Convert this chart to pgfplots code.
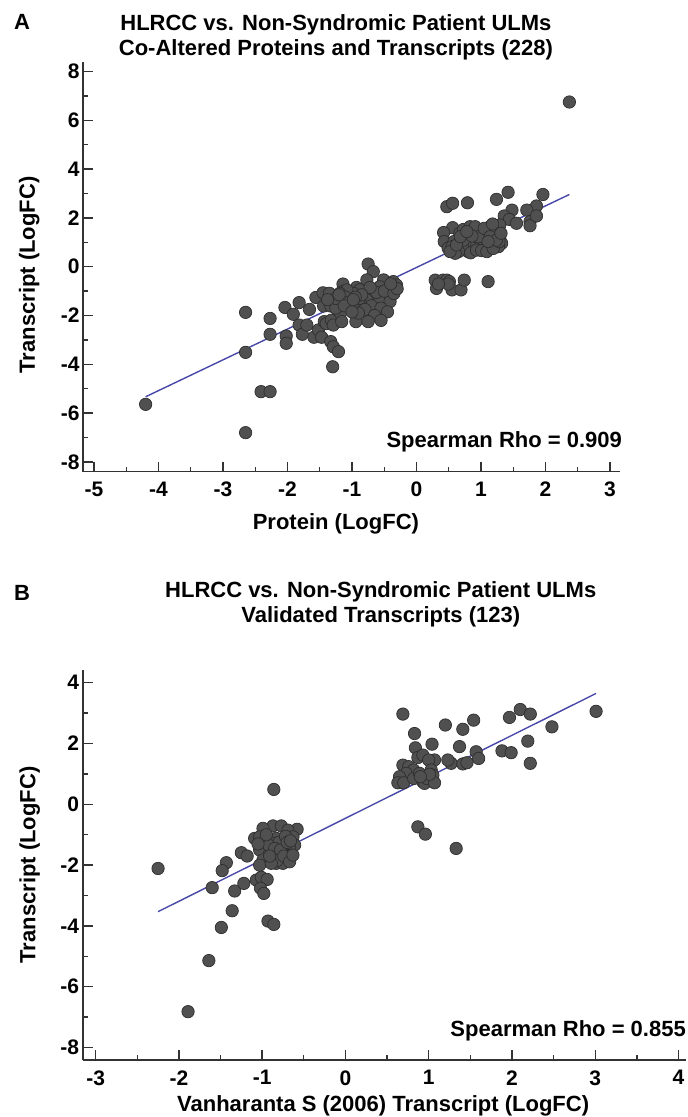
\documentclass[border=0pt]{standalone}
\usepackage{pgfplots}
\pgfplotsset{compat=1.18}
\usepackage{fontspec}
\setmainfont{Liberation Sans}
\definecolor{axisgray}{HTML}{333333}
\definecolor{ptfill}{HTML}{505050}
\definecolor{ptedge}{HTML}{2E2E2E}
\definecolor{fitblue}{HTML}{4848A8}
\pgfplotsset{
  myaxis/.style={
    scale only axis, anchor=south west,
    axis x line*=bottom, axis y line*=left,
    axis line style={line width=1.6pt, draw=axisgray, -},
    tick align=inside, major tick length=10pt, minor tick length=5pt,
    every tick/.style={line width=1.4pt, draw=axisgray},
    tick label style={font=\bfseries\fontsize{21}{21}\selectfont, text=black},
    xticklabel style={yshift=-7pt},
    label style={font=\bfseries\fontsize{22}{24}\selectfont},
    title style={font=\bfseries\fontsize{22}{25}\selectfont, align=center, anchor=south, inner sep=0pt},
    clip=false,
  },
  pts/.style={only marks, mark=*, mark size=6.2pt,
    mark options={fill=ptfill, draw=ptedge, line width=0.7pt}},
  fit/.style={no marks, draw=fitblue, line width=1.4pt},
}
\begin{document}
\begin{tikzpicture}
\useasboundingbox (0,0) rectangle (688pt,1117pt);
\node[font=\bfseries\fontsize{22}{22}\selectfont, anchor=center] at (22pt,1095pt) {A};
\node[font=\bfseries\fontsize{22}{22}\selectfont, anchor=center] at (22pt,524pt) {B};
% ---------------- Panel A ----------------
\begin{axis}[myaxis,
  at={(83pt,645.3pt)}, width=537pt, height=409.7pt,
  xmin=-5.171, xmax=3.155, ymin=-8.40, ymax=8.39,
  xtick={-5,-4,-3,-2,-1,0,1,2,3}, xticklabels={-5,-4,-3,-2,-1,0,1,2,3},
  ytick={-8,-6,-4,-2,0,2,4,6,8}, yticklabels={-8,-6,-4,-2,0,2,4,6,8},
  minor xtick={-4.5,-3.5,-2.5,-1.5,-0.5,0.5,1.5,2.5},
  minor ytick={-7,-5,-3,-1,1,3,5,7},
  title={HLRCC vs. Non-Syndromic Patient ULMs\\Co-Altered Proteins and Transcripts (228)},
  title style={at={(axis description cs:0.471,0.989)}},
  xlabel={Protein (LogFC)},
  xlabel style={at={(axis description cs:0.471,-0.14)}, anchor=base},
  ylabel={Transcript (LogFC)},
  ylabel style={at={(axis description cs:-0.10,0.48)}, anchor=center},
]
\addplot[pts] table {
-4.20 -5.64
-2.65 -1.87
-2.65 -3.51
-2.65 -6.80
-2.41 -5.12
-2.27 -5.12
-2.27 -2.12
-2.27 -2.77
-2.04 -1.67
-2.02 -2.84
-2.02 -3.14
-1.91 -1.95
-1.82 -1.47
-1.82 -2.39
-1.77 -2.77
-1.70 -2.39
-1.66 -1.75
-1.59 -2.89
-1.56 -1.26
-1.52 -2.59
-1.47 -2.89
-1.45 -1.07
-1.44 -1.61
-1.43 -2.25
-1.40 -2.33
-1.35 -1.09
-1.33 -1.61
-1.33 -3.07
-1.32 -2.19
-1.30 -4.10
-1.29 -3.28
-1.29 -2.39
-1.21 -3.48
-1.23 -1.75
-1.18 -1.91
-1.16 -2.25
-1.14 -0.71
-1.15 -1.02
-1.10 -1.20
-1.07 -1.09
-1.03 -1.20
-1.02 -1.71
-0.95 -1.50
-0.94 -2.25
-0.93 -0.85
-0.91 -1.09
-0.75 0.11
-0.67 -0.20
-0.77 -0.54
-0.51 -0.54
-0.36 -0.61
-0.31 -0.75
-0.41 -0.95
-0.57 -0.82
-0.67 -1.09
-0.88 -0.95
-0.98 -1.09
-1.08 -0.95
-1.19 -1.09
-0.46 -1.23
-0.57 -1.43
-0.41 -1.43
-0.77 -1.36
-0.88 -1.30
-1.03 -1.36
-0.62 -1.05
-0.72 -0.85
-0.85 -1.15
-0.50 -1.00
-0.35 -1.10
-0.95 -1.25
-1.10 -1.25
-1.20 -1.40
-0.70 -1.60
-0.55 -1.70
-0.80 -1.75
-0.45 -1.85
-0.65 -2.00
-0.90 -1.90
-0.75 -2.25
-0.55 -2.20
-1.00 -1.60
-1.15 -1.55
-1.25 -1.70
-0.30 -0.90
-0.40 -0.70
-1.25 -1.30
-1.38 -1.35
-1.20 -1.15
-1.05 -1.45
-1.12 -1.60
-1.00 -1.85
-0.98 -1.35
0.29 -0.55
0.31 -0.89
0.41 -0.55
0.47 -0.55
0.51 -0.61
0.55 -0.95
0.69 -0.95
0.74 -0.55
1.11 -0.61
0.49 -0.71
0.34 -0.71
0.47 2.46
0.56 2.60
0.79 2.62
0.56 1.60
0.42 1.40
0.43 1.03
0.49 0.76
0.58 1.03
1.42 3.05
1.24 2.76
1.96 2.96
1.86 2.49
1.71 2.32
1.48 2.32
1.36 2.08
1.44 1.94
1.55 1.78
1.76 1.85
1.76 1.68
1.86 2.08
2.37 6.75
0.67 1.37
0.73 1.53
0.78 1.23
0.83 1.64
0.86 1.44
0.88 1.09
0.93 1.37
0.98 1.50
1.03 1.03
1.06 1.23
1.09 1.44
1.14 1.64
1.17 1.09
1.19 1.30
1.24 1.50
1.29 1.71
1.29 1.16
1.32 0.96
1.27 0.82
1.22 0.98
1.11 0.82
1.04 0.71
0.98 0.89
0.93 1.03
0.88 0.85
0.83 0.82
0.80 0.62
0.75 0.96
0.72 0.75
0.65 0.62
0.60 0.55
0.55 0.82
0.52 0.62
0.84 0.57
0.93 0.68
1.01 0.66
1.09 0.62
1.19 0.75
1.28 1.03
0.73 1.09
0.62 0.89
0.68 1.23
0.91 1.64
0.96 1.23
1.05 1.57
1.14 1.23
1.24 1.09
1.18 1.75
1.31 1.37
1.11 1.03
0.86 1.26
0.78 1.44
};
\addplot[fit] coordinates {(-4.20,-5.33) (2.37,2.96)};
\node[font=\bfseries\fontsize{22}{22}\selectfont, anchor=base east, inner sep=0pt] at (axis description cs:1.004,0.058) {Spearman Rho = 0.909};
\end{axis}
% ---------------- Panel B ----------------
\begin{axis}[myaxis,
  at={(82.7pt,57pt)}, width=603.3pt, height=390pt,
  xmin=-3.155, xmax=4.09, ymin=-8.41, ymax=4.42,
  xtick={-3,-2,-1,0,1,2,3,4}, xticklabels={-3,-2,-1,0,1,2,3,4},
  ytick={-8,-6,-4,-2,0,2,4}, yticklabels={-8,-6,-4,-2,0,2,4},
  minor xtick={-2.5,-1.5,-0.5,0.5,1.5,2.5,3.5},
  minor ytick={-7,-5,-3,-1,1,3},
  title={HLRCC vs. Non-Syndromic Patient ULMs\\Validated Transcripts (123)},
  title style={at={(axis description cs:0.494,1.093)}},
  xlabel={Vanharanta S (2006) Transcript (LogFC)},
  xlabel style={at={(axis description cs:0.498,-0.133)}, anchor=base},
  ylabel={Transcript (LogFC)},
  ylabel style={at={(axis description cs:-0.088,0.5)}, anchor=center},
]
\addplot[pts] table {
-0.86 0.49
-0.87 -0.71
-0.77 -0.71
-0.99 -0.79
-0.58 -0.82
-0.69 -0.85
-1.09 -1.12
-1.03 -1.07
-0.95 -1.17
-0.83 -1.12
-0.63 -1.07
-0.61 -1.34
-0.67 -1.45
-0.75 -1.34
-0.87 -1.28
-0.99 -1.39
-1.03 -1.50
-0.91 -1.61
-0.79 -1.61
-0.65 -1.67
-0.71 -1.83
-0.87 -1.72
-0.99 -1.83
-1.25 -1.59
-1.18 -1.70
-1.43 -1.92
-1.03 -2.00
-0.83 -1.94
-0.75 -1.94
-0.80 -1.25
-0.72 -1.05
-0.92 -1.35
-0.85 -1.45
-0.78 -1.50
-0.70 -1.25
-0.95 -1.00
-1.05 -1.30
-0.66 -1.20
-0.82 -1.85
-0.74 -1.70
-2.25 -2.11
-1.48 -2.18
-1.60 -2.74
-1.33 -2.85
-1.22 -2.60
-1.36 -3.50
-1.49 -4.05
-1.64 -5.14
-1.89 -6.82
-1.07 -2.49
-1.01 -2.40
-0.94 -2.47
-1.02 -2.76
-0.98 -2.93
-0.93 -3.84
-0.86 -3.95
-0.89 -1.94
-0.67 -1.89
-0.63 -1.67
-0.91 -1.70
0.69 2.97
0.83 2.33
0.84 1.86
1.04 1.98
1.20 2.61
1.41 2.47
1.54 2.77
1.97 2.86
2.10 3.12
2.22 2.97
3.01 3.06
2.48 2.55
2.19 2.08
1.88 1.76
1.99 1.70
2.22 1.35
1.37 1.90
1.57 1.73
1.60 1.51
1.27 1.35
1.41 1.33
1.46 1.37
1.23 1.46
0.87 1.54
0.93 1.62
1.07 1.46
1.00 1.46
0.69 1.29
0.76 1.24
0.82 1.13
0.73 1.02
0.65 0.91
0.63 0.71
0.70 0.71
0.82 0.85
0.89 1.02
0.93 0.74
0.95 0.69
0.98 0.85
1.03 1.13
1.05 0.96
1.07 0.71
1.01 0.99
0.90 0.91
0.87 -0.74
0.96 -0.98
1.33 -1.45
};
\addplot[fit] coordinates {(-2.25,-3.53) (3.01,3.65)};
\node[font=\bfseries\fontsize{22}{22}\selectfont, anchor=base east, inner sep=0pt] at (axis description cs:1.0,0.059) {Spearman Rho = 0.855};
\end{axis}
\end{tikzpicture}
\end{document}
